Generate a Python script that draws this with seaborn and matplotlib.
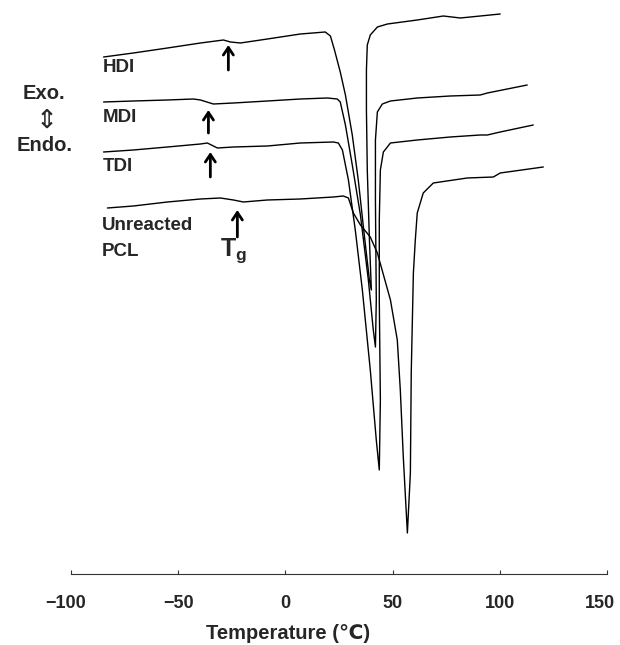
import matplotlib
matplotlib.use("Agg")
import matplotlib.pyplot as plt
import matplotlib.transforms as mtransforms
import seaborn as sns
import pandas as pd

# DSC traces: temperature (°C) and heat flow (arbitrary units, curves offset vertically)
hdi_temp = [-84.8, -70.9, -55.0, -39.6, -28.9, -25.6, -21.0, -8.4, 7.0, 18.6, 21.0, 22.9,
            25.6, 28.0, 31.2, 34.0, 36.8, 39.2, 40.1, 39.2, 38.2, 37.8, 37.8, 38.2, 39.6,
            42.9, 47.6, 61.5, 73.7, 81.6, 100.2]
hdi_flow = [51.7, 52.1, 52.6, 53.1, 53.4, 53.2, 53.1, 53.5, 54.0, 54.2, 53.8, 52.4,
            50.2, 47.9, 43.9, 39.4, 33.9, 29.4, 28.4, 33.4, 40.4, 46.4, 50.4, 52.9, 53.9,
            54.7, 55.0, 55.4, 55.8, 55.6, 56.0]

mdi_temp = [-84.8, -70.9, -55.0, -42.9, -39.6, -33.6, -24.2, -8.4, 7.0, 19.6, 24.2, 25.6,
            28.0, 31.2, 35.0, 38.7, 41.0, 42.0, 42.4, 42.0, 42.0, 42.9, 45.2, 49.0, 61.5,
            76.9, 90.9, 94.2, 112.8]
mdi_flow = [47.2, 47.3, 47.4, 47.5, 47.4, 47.0, 47.1, 47.3, 47.5, 47.6, 47.5, 47.2,
            44.9, 40.9, 35.9, 29.4, 24.4, 22.7, 27.4, 37.4, 43.4, 46.2, 47.0, 47.3, 47.6,
            47.8, 47.9, 48.1, 48.9]

tdi_temp = [-84.8, -70.9, -55.0, -39.6, -36.4, -31.7, -24.2, -8.4, 7.0, 22.4, 24.7, 26.6,
            29.4, 32.6, 35.9, 39.6, 42.4, 43.8, 44.3, 43.8, 43.8, 44.3, 45.7, 49.0, 61.5,
            76.9, 90.9, 94.2, 100.2, 115.6]
tdi_flow = [42.2, 42.4, 42.7, 43.0, 43.1, 42.6, 42.7, 42.8, 43.1, 43.2, 43.1, 42.4,
            39.4, 34.4, 28.4, 20.4, 13.4, 10.4, 17.4, 27.4, 35.4, 40.4, 42.2, 43.1, 43.4,
            43.7, 43.9, 43.9, 44.2, 44.9]

pcl_temp = [-83.0, -70.9, -55.0, -39.6, -30.3, -24.2, -19.6, -8.4, 7.0, 22.4, 27.0, 29.4,
            31.7, 35.0, 39.6, 42.9, 49.0, 52.2, 53.6, 55.0, 56.9, 58.3, 58.7, 59.7, 60.6,
            61.5, 64.3, 69.0, 84.8, 97.0, 100.2, 120.3]
pcl_flow = [36.6, 36.8, 37.2, 37.5, 37.6, 37.4, 37.2, 37.4, 37.5, 37.7, 37.8, 37.6,
            36.1, 34.9, 33.7, 32.1, 27.4, 23.4, 18.4, 11.7, 4.1, 10.1, 20.1, 30.1, 33.4,
            36.1, 38.1, 39.1, 39.6, 39.7, 40.1, 40.7]

# Glass transition markers: (temperature, arrow tip, arrow tail)
tg_temp = [-26.6, -35.9, -35.0, -22.4]
tg_tip = [52.9, 46.4, 42.2, 36.4]
tg_tail = [50.4, 44.1, 39.7, 33.7]

sample_names = ["HDI", "MDI", "TDI", "Unreacted\nPCL"]
x_ticks = [-100, -50, 0, 50, 100, 150]

sns.set_theme(style="white")
plt.rcParams["font.family"] = ["Liberation Sans", "DejaVu Sans"]
plt.rcParams["font.weight"] = "bold"
plt.rcParams["mathtext.fontset"] = "custom"
plt.rcParams["mathtext.rm"] = "Liberation Sans:bold"
plt.rcParams["mathtext.bf"] = "Liberation Sans:bold"

fig = plt.figure(figsize=(6.2, 6.45), dpi=100)
ax = fig.add_axes([0.1145, 0.1101, 0.8645, 0.8899])

curves = [(hdi_temp, hdi_flow), (mdi_temp, mdi_flow),
          (tdi_temp, tdi_flow), (pcl_temp, pcl_flow)]
for (t, f), name in zip(curves, sample_names):
    df = pd.DataFrame({"Temperature": t, "HeatFlow": f})
    sns.lineplot(data=df, x="Temperature", y="HeatFlow", sort=False,
                 estimator=None, color="black", linewidth=1.0, ax=ax)

# Tg arrows
for t, tip, tail in zip(tg_temp, tg_tip, tg_tail):
    ax.annotate("", xy=(t, tip), xytext=(t, tail),
                arrowprops=dict(arrowstyle="->,head_length=0.45,head_width=0.3",
                                color="black", lw=2.0, shrinkA=0, shrinkB=0))

# Sample labels
lab_kw = dict(fontsize=13.5, fontweight="bold", ha="left", va="center")
ax.text(-85.3, 50.6, "HDI", **lab_kw)
ax.text(-85.3, 45.6, "MDI", **lab_kw)
ax.text(-85.3, 40.7, "TDI", **lab_kw)
ax.text(-85.8, 34.8, "Unreacted", **lab_kw)
ax.text(-85.8, 32.2, "PCL", **lab_kw)
ax.text(-24.2, 32.3, r"$\mathrm{T}_\mathrm{g}$", fontsize=18, ha="center", va="center")

# Exo / Endo direction indicator
ax.text(-112.4, 48.0, "Exo.", fontsize=14.5, fontweight="bold", ha="center", va="center")
ax.text(-111.3, 45.3, "\u21d5", fontsize=19, ha="center", va="center",
        family=["DejaVu Sans"], fontweight="normal")
ax.text(-112.4, 42.8, "Endo.", fontsize=14.5, fontweight="bold", ha="center", va="center")

ax.set_xlim(-100, 150)
ax.set_ylim(0, 57.4)
ax.set_xticks(x_ticks)
ax.set_xticklabels([f"\u2212{abs(v)}" if v < 0 else str(v) for v in x_ticks],
                   fontsize=13, fontweight="bold")
ax.set_yticks([])
ax.tick_params(axis="x", direction="in", length=3, width=0.8, color="#333333",
               pad=15, bottom=True)
# nudge the outermost tick labels inward so they stay on the canvas
shifts = {0: -5, 5: -7}
for i, lbl in enumerate(ax.get_xticklabels()):
    if i in shifts:
        lbl.set_transform(lbl.get_transform() +
                          mtransforms.ScaledTranslation(shifts[i] / 100, 0, fig.dpi_scale_trans))
for side in ["left", "top", "right"]:
    ax.spines[side].set_visible(False)
ax.spines["bottom"].set_color("#333333")
ax.spines["bottom"].set_linewidth(0.8)
ax.set_ylabel("")
ax.set_xlabel("Temperature (\u2103)", fontsize=14.5, fontweight="bold")
ax.xaxis.set_label_coords(0.405, -0.1045)
ax.xaxis.label.set_va("center")

fig.savefig("out.png", dpi=100, facecolor="white")
